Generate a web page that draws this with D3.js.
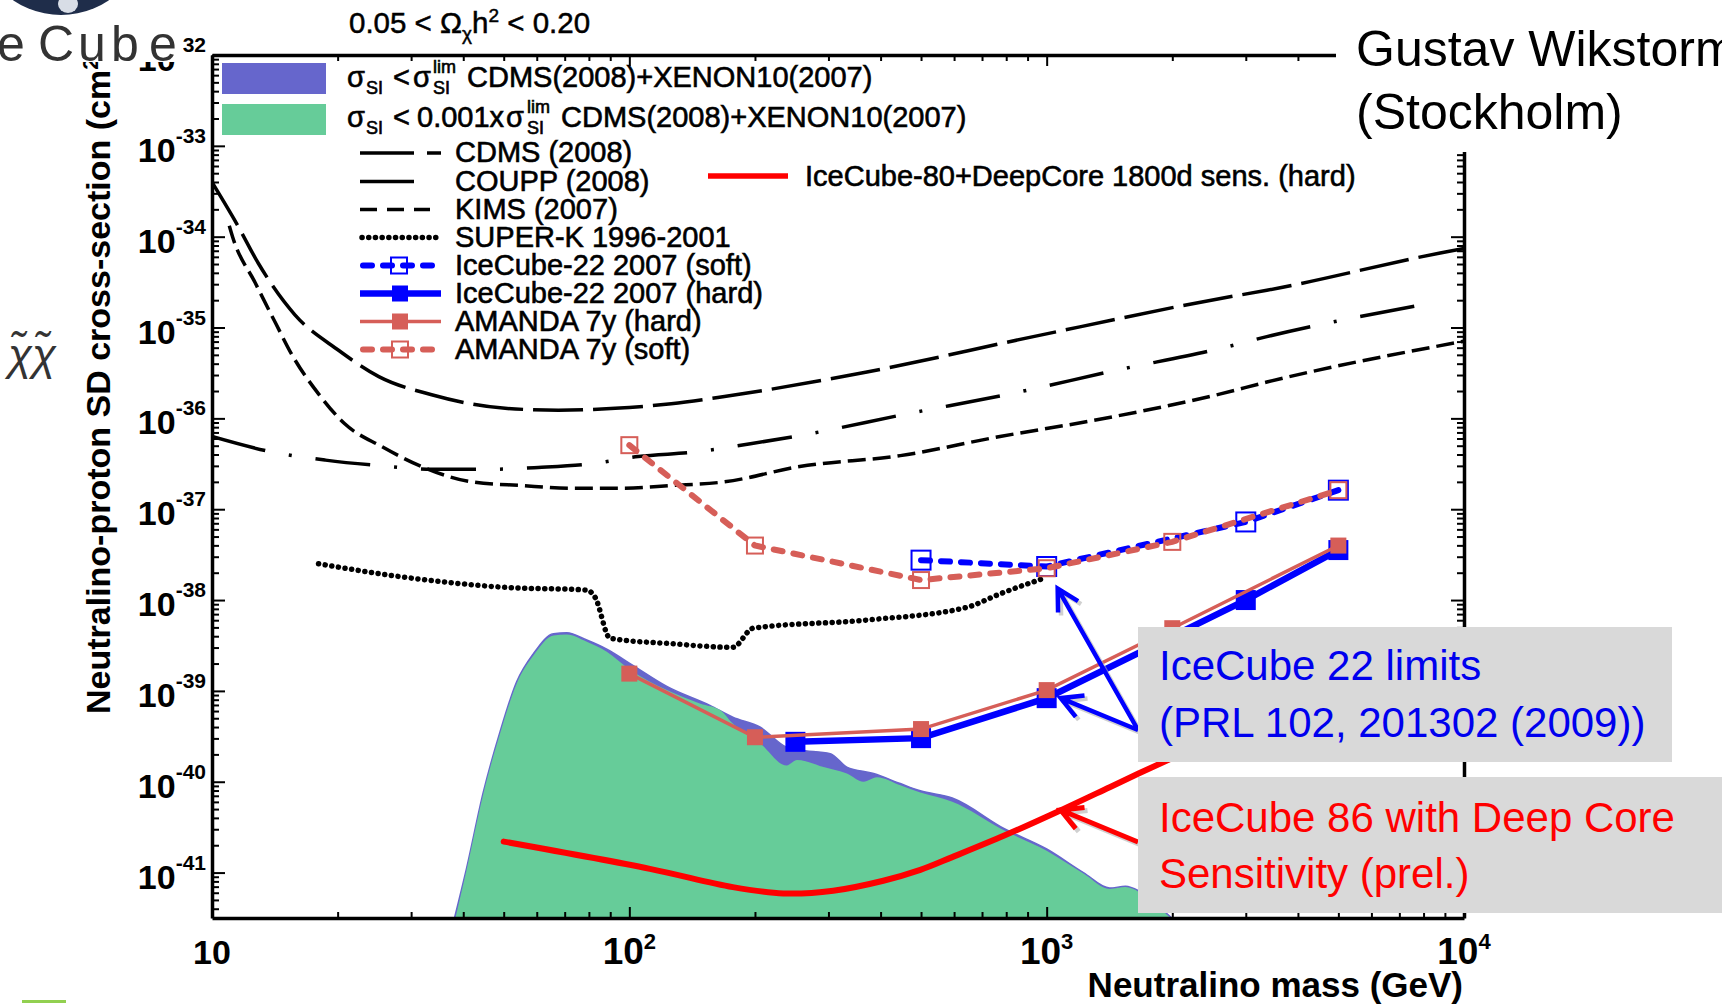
<!DOCTYPE html>
<html>
<head>
<meta charset="utf-8">
<script src="https://cdn.jsdelivr.net/npm/d3@7"></script>
<style>
  body { margin: 0; background: #fff; }
  svg { display: block; }
  text { font-family: "Liberation Sans", Arial, Helvetica, sans-serif; }
</style>
</head>
<body>
<svg id="chart" width="1722" height="1006"></svg>
<script>
// ---- data (mass in GeV, cross-section in cm^2) ----
var cdmsMass  = [10, 11.5, 12.9, 15.8, 20.1, 25.1, 33.6, 50.4, 67.6, 92.5, 126, 169, 371, 929, 2610, 3370, 8770, 10000];
var cdmsSigma = [3.98e-34, 1.35e-34, 5.13e-35, 1.38e-35, 5.62e-36, 2.88e-36, 1.82e-36, 1.29e-36, 1.23e-36, 1.29e-36, 1.45e-36, 1.74e-36, 3.24e-36, 7.94e-36, 2.09e-35, 2.57e-35, 6.61e-35, 7.41e-35];

var couppMass  = [10, 13.9, 18.7, 25.1, 33.6, 45.9, 60.5, 81.3, 105, 144, 195, 256, 462, 817, 1470, 2610, 3370, 8380];
var couppSigma = [6.31e-37, 4.27e-37, 3.47e-37, 3.02e-37, 2.75e-37, 2.75e-37, 2.88e-37, 3.16e-37, 3.80e-37, 4.27e-37, 5.25e-37, 6.46e-37, 1.12e-36, 1.86e-36, 3.39e-36, 5.89e-36, 7.94e-36, 1.86e-35];

var kimsMass  = [11.0, 11.2, 12.7, 14.2, 15.5, 18.0, 20.8, 25.5, 31.8, 41.9, 55.2, 72.8, 95.9, 126, 169, 256, 446, 773, 1340, 2610, 3370, 10000];
var kimsSigma = [1.32e-34, 1.00e-34, 3.09e-35, 1.12e-35, 5.13e-36, 1.86e-36, 8.71e-37, 4.90e-37, 2.95e-37, 2.00e-37, 1.82e-37, 1.70e-37, 1.70e-37, 1.82e-37, 2.00e-37, 2.95e-37, 3.89e-37, 6.31e-37, 9.77e-37, 1.86e-36, 2.51e-36, 7.08e-36];

var superkMass  = [18.0, 29.0, 50.4, 79.1, 82.8, 89.9, 126, 177, 198, 371, 644, 773, 1000];
var superkSigma = [2.51e-38, 1.78e-38, 1.38e-38, 1.29e-38, 1.07e-38, 3.80e-39, 3.31e-39, 3.02e-39, 4.90e-39, 6.03e-39, 8.32e-39, 1.17e-38, 1.78e-38];

var blueMass  = [38.0, 40.7, 44.7, 49.0, 53.7, 58.9, 65.8, 70.8, 79.1, 88.3, 102, 123, 156, 177, 206, 238, 256, 303, 332, 385, 446, 498, 594, 794, 1000, 1225, 1416, 1545, 1660, 1820, 2020];
var blueSigma = [3.0e-42, 1.10e-41, 7.76e-41, 3.55e-40, 1.26e-39, 2.57e-39, 4.27e-39, 4.37e-39, 3.63e-39, 2.88e-39, 1.91e-39, 1.12e-39, 6.92e-40, 5.13e-40, 3.98e-40, 2.40e-40, 2.24e-40, 2.04e-40, 1.45e-40, 1.23e-40, 9.55e-41, 7.94e-41, 6.61e-41, 3.02e-41, 1.82e-41, 1.00e-41, 6.76e-42, 7.08e-42, 6.31e-42, 4.57e-42, 3.0e-42];

var greenMass  = [38.2, 40.7, 44.7, 49.0, 53.7, 58.9, 65.8, 70.8, 79.1, 88.3, 100.5, 123, 148, 165, 177, 206, 238, 252, 292, 332, 364, 392, 446, 498, 594, 794, 1000, 1225, 1416, 1545, 1660, 1820, 2005];
var greenSigma = [3.0e-42, 1.05e-41, 7.41e-41, 3.39e-40, 1.20e-39, 2.45e-39, 4.07e-39, 4.17e-39, 3.47e-39, 2.69e-39, 1.70e-39, 1.02e-39, 7.24e-40, 6.17e-40, 4.37e-40, 2.63e-40, 1.51e-40, 1.74e-40, 1.45e-40, 1.23e-40, 1.00e-40, 1.12e-40, 9.12e-41, 7.59e-41, 6.03e-41, 2.88e-41, 1.74e-41, 9.77e-42, 6.61e-42, 6.92e-42, 6.17e-42, 4.47e-42, 3.0e-42];

var amandaHardMass  = [100, 200, 500, 1000, 2000, 5000];
var amandaHardSigma = [1.55e-39, 3.09e-40, 3.80e-40, 1.02e-39, 4.90e-39, 3.98e-38];

var amandaSoftMass  = [100, 200, 500, 1000, 2000, 5000];
var amandaSoftSigma = [5.07e-37, 3.98e-38, 1.66e-38, 2.24e-38, 4.37e-38, 1.62e-37];

var icHardMass  = [250, 500, 1000, 3000, 5000];
var icHardSigma = [2.75e-40, 3.02e-40, 8.32e-40, 1.00e-38, 3.55e-38];

var icSoftMass  = [500, 1000, 3000, 5000];
var icSoftSigma = [2.75e-38, 2.34e-38, 7.24e-38, 1.62e-37];

var deepcoreMass  = [50, 112, 177, 234, 308, 406, 498, 594, 794, 1062, 1416, 1660, 3160, 5000];
var deepcoreSigma = [2.19e-41, 1.10e-41, 6.92e-42, 5.89e-42, 6.31e-42, 8.13e-42, 1.07e-41, 1.48e-41, 2.57e-41, 4.68e-41, 8.71e-41, 1.23e-40, 4.79e-40, 1.26e-39];

// axis labels
var yTickExps = [-32, -33, -34, -35, -36, -37, -38, -39, -40, -41];
var xTickMass = [10, 100, 1000, 10000];
var xTickSups = ["", "2", "3", "4"];

var legendNames = ["CDMS (2008)", "COUPP (2008)", "KIMS (2007)", "SUPER-K 1996-2001",
                   "IceCube-22 2007 (soft)", "IceCube-22 2007 (hard)", "AMANDA 7y (hard)", "AMANDA 7y (soft)"];

var BLUE = "#0000ff", AMANDA = "#d65e58", RED = "#ff0000";
var FILL_BLUE = "#6666cc", FILL_GREEN = "#66cc99";

function zip(m, s) {
    return m.map(function(d, i) { return [d, s[i]]; });
}

var svg = d3.select("#chart");
var yLo = Math.pow(10, -41.5), yHi = 1e-32;
var x = d3.scaleLog().domain([10, 1e4]).range([212, 1464]);
var y = d3.scaleLog().domain([yLo, yHi]).range([918, 55]);

svg.append("defs").append("clipPath").attr("id", "plotclip")
    .append("rect").attr("x", 212).attr("y", 55).attr("width", 1252).attr("height", 863);

var plot = svg.append("g").attr("clip-path", "url(#plotclip)");

// ---- filled regions ----
var area = d3.area()
    .x(function(d) { return x(d[0]); })
    .y0(y(yLo) + 5)
    .y1(function(d) { return y(d[1]); })
    .curve(d3.curveMonotoneX);

plot.append("path").datum(zip(blueMass, blueSigma))
    .attr("d", area).attr("fill", FILL_BLUE)
    .attr("stroke", FILL_BLUE).attr("stroke-width", 1.5);
plot.append("path").datum(zip(greenMass, greenSigma))
    .attr("d", area).attr("fill", FILL_GREEN);

// ---- limit curves ----
var smooth = d3.line()
    .x(function(d) { return x(d[0]); })
    .y(function(d) { return y(d[1]); })
    .curve(d3.curveMonotoneX);
var rounded = d3.line()
    .x(function(d) { return x(d[0]); })
    .y(function(d) { return y(d[1]); })
    .curve(d3.curveCatmullRom.alpha(0.5));
var straight = d3.line()
    .x(function(d) { return x(d[0]); })
    .y(function(d) { return y(d[1]); });

plot.append("path").datum(zip(cdmsMass, cdmsSigma)).attr("d", smooth)
    .attr("fill", "none").attr("stroke", "#000").attr("stroke-width", 3.5)
    .attr("stroke-dasharray", "50 10");
plot.append("path").datum(zip(couppMass, couppSigma)).attr("d", smooth)
    .attr("fill", "none").attr("stroke", "#000").attr("stroke-width", 3.5)
    .attr("stroke-dasharray", "55 24 3 24");
plot.append("path").datum(zip(kimsMass, kimsSigma)).attr("d", smooth)
    .attr("fill", "none").attr("stroke", "#000").attr("stroke-width", 3.5)
    .attr("stroke-dasharray", "18 7");
plot.append("path").datum(zip(superkMass, superkSigma)).attr("d", smooth)
    .attr("fill", "none").attr("stroke", "#000").attr("stroke-width", 5.5)
    .attr("stroke-linecap", "round").attr("stroke-dasharray", "0.1 6.6");

plot.append("path").datum(zip(deepcoreMass, deepcoreSigma)).attr("d", rounded)
    .attr("fill", "none").attr("stroke", RED).attr("stroke-width", 6)
    .attr("stroke-linecap", "round");

// ---- measured series with markers ----
function series(m, s, color, width, dash, size, open) {
    var data = zip(m, s);
    var p = plot.append("path").datum(data).attr("d", straight)
        .attr("fill", "none").attr("stroke", color).attr("stroke-width", width);
    if (dash) p.attr("stroke-dasharray", dash).attr("stroke-linecap", "round");
    plot.selectAll(null).data(data).enter().append("rect")
        .attr("x", function(d) { return x(d[0]) - size / 2; })
        .attr("y", function(d) { return y(d[1]) - size / 2; })
        .attr("width", size).attr("height", size)
        .attr("fill", open ? "none" : color)
        .attr("stroke", color).attr("stroke-width", open ? 2 : 0);
}
series(icSoftMass, icSoftSigma, BLUE, 6, "9 11", 19, true);
series(amandaSoftMass, amandaSoftSigma, AMANDA, 6, "9 11", 16, true);
series(icHardMass, icHardSigma, BLUE, 6.5, null, 20, false);
series(amandaHardMass, amandaHardSigma, AMANDA, 3.5, null, 16, false);

// ---- axes ----
var yMajor = yTickExps.map(function(e) { return Math.pow(10, e); });
var yMinor = [];
for (var e = -42; e < -32; e++) {
    for (var k = 2; k < 10; k++) {
        var v = k * Math.pow(10, e);
        if (v >= yLo && v <= yHi) yMinor.push(v);
    }
}
var xMinor = [];
for (var e2 = 1; e2 < 4; e2++) {
    for (var k2 = 2; k2 < 10; k2++) xMinor.push(k2 * Math.pow(10, e2));
}

function styleAxis(g, w) {
    g.selectAll("text").remove();
    g.select(".domain").attr("stroke-width", w);
    g.selectAll(".tick line").attr("stroke-width", 2);
}

var axes = svg.append("g");
axes.append("g").attr("transform", "translate(212,0)")
    .call(d3.axisLeft(y).tickValues(yMajor).tickSize(-13).tickSizeOuter(0).tickFormat(""))
    .call(styleAxis, 3.5);
axes.append("g").attr("transform", "translate(212,0)")
    .call(d3.axisLeft(y).tickValues(yMinor).tickSize(-7).tickSizeOuter(0).tickFormat(""))
    .call(styleAxis, 0);
axes.append("g").attr("transform", "translate(1464,0)")
    .call(d3.axisRight(y).tickValues(yMajor).tickSize(-13).tickSizeOuter(0).tickFormat(""))
    .call(styleAxis, 3.5);
axes.append("g").attr("transform", "translate(1464,0)")
    .call(d3.axisRight(y).tickValues(yMinor).tickSize(-7).tickSizeOuter(0).tickFormat(""))
    .call(styleAxis, 0);
axes.append("g").attr("transform", "translate(0,918)")
    .call(d3.axisBottom(x).tickValues(xTickMass).tickSize(-11).tickSizeOuter(0).tickFormat(""))
    .call(styleAxis, 3.5);
axes.append("g").attr("transform", "translate(0,918)")
    .call(d3.axisBottom(x).tickValues(xMinor).tickSize(-6).tickSizeOuter(0).tickFormat(""))
    .call(styleAxis, 0);
axes.append("g").attr("transform", "translate(0,55)")
    .call(d3.axisTop(x).tickValues(xTickMass).tickSize(-11).tickSizeOuter(0).tickFormat(""))
    .call(styleAxis, 3.5);
axes.append("g").attr("transform", "translate(0,55)")
    .call(d3.axisTop(x).tickValues(xMinor).tickSize(-6).tickSizeOuter(0).tickFormat(""))
    .call(styleAxis, 0);

// y tick labels
yTickExps.forEach(function(e) {
    var t = svg.append("text").attr("x", 206).attr("y", y(Math.pow(10, e)) + 16)
        .attr("text-anchor", "end").attr("font-weight", "bold").attr("font-size", 34);
    t.append("tspan").text("10");
    t.append("tspan").attr("dy", -19).attr("font-size", 21).text(String(e));
});

// x tick labels
xTickMass.forEach(function(m, i) {
    var t = svg.append("text").attr("x", x(m)).attr("y", 964)
        .attr("text-anchor", "middle").attr("font-weight", "bold");
    if (xTickSups[i] === "") {
        t.attr("font-size", 34).text("10");
    } else {
        t.attr("font-family", "'Liberation Sans Narrow', 'Arial Narrow', sans-serif").attr("font-size", 37);
        t.append("tspan").text("10");
        t.append("tspan").attr("dy", -15).attr("font-size", 22).text(xTickSups[i]);
    }
});

// axis titles
svg.append("text").attr("x", 1463).attr("y", 997).attr("text-anchor", "end")
    .attr("font-weight", "bold").attr("font-size", 35).text("Neutralino mass (GeV)");
var yt = svg.append("text").attr("transform", "translate(110,714) rotate(-90)")
    .attr("font-weight", "bold").attr("font-size", 34);
yt.append("tspan").text("Neutralino-proton SD cross-section (cm");
yt.append("tspan").attr("dy", -12).attr("font-size", 22).text("2");
yt.append("tspan").attr("dy", 12).text(")");

// ---- legend ----
var lg = svg.append("g").attr("font-size", 29).attr("stroke", "#000").attr("stroke-width", 0.6);
lg.append("rect").attr("x", 222).attr("y", 63).attr("width", 104).attr("height", 31)
    .attr("fill", FILL_BLUE).attr("stroke", "none");
lg.append("rect").attr("x", 222).attr("y", 104).attr("width", 104).attr("height", 31)
    .attr("fill", FILL_GREEN).attr("stroke", "none");

function put(g, txt, px, py, fs) {
    return g.append("text").attr("x", px).attr("y", py).attr("font-size", fs || 29).text(txt);
}
// row 1
put(lg, "σ", 347, 87); put(lg, "SI", 366, 94, 18); put(lg, "<", 393, 87);
put(lg, "σ", 413, 87); put(lg, "lim", 433, 73, 18); put(lg, "SI", 433, 94, 18);
put(lg, "CDMS(2008)+XENON10(2007)", 467, 87);
// row 2
put(lg, "σ", 347, 127); put(lg, "SI", 366, 134, 18); put(lg, "<", 393, 127);
put(lg, "0.001x", 417, 127); put(lg, "σ", 506, 127);
put(lg, "lim", 527, 113, 18); put(lg, "SI", 527, 134, 18);
put(lg, "CDMS(2008)+XENON10(2007)", 561, 127);

var rowY = [153, 181.5, 209.5, 237.5, 265.5, 293.5, 321.5, 349.5];
legendNames.forEach(function(n, i) {
    put(lg, n, 455, rowY[i] + 9);
});
function seg(x1, x2, yy, color, w, dash, cap) {
    var l = lg.append("line").attr("x1", x1).attr("x2", x2).attr("y1", yy).attr("y2", yy)
        .attr("stroke", color).attr("stroke-width", w);
    if (dash) l.attr("stroke-dasharray", dash);
    if (cap) l.attr("stroke-linecap", cap);
}
function box(cx, cy, s, color, open) {
    lg.append("rect").attr("x", cx - s / 2).attr("y", cy - s / 2).attr("width", s).attr("height", s)
        .attr("fill", open ? "none" : color).attr("stroke", open ? color : "none").attr("stroke-width", 2);
}
seg(360, 414, rowY[0], "#000", 3.5); seg(427, 441, rowY[0], "#000", 3.5);
seg(360, 414, rowY[1], "#000", 3.5);
seg(360, 430, rowY[2], "#000", 3.5, "17 10");
seg(362, 436, rowY[3], "#000", 5.5, "0.1 6.6", "round");
seg(363, 436, rowY[4], BLUE, 6, "9 11", "round"); box(399, rowY[4], 16, BLUE, true);
seg(360, 441, rowY[5], BLUE, 6.5); box(400, rowY[5], 16, BLUE, false);
seg(360, 441, rowY[6], AMANDA, 3.5); box(400, rowY[6], 16, AMANDA, false);
seg(363, 436, rowY[7], AMANDA, 6, "9 11", "round"); box(400, rowY[7], 16, AMANDA, true);

seg(708, 788, 176, RED, 5.5);
put(lg, "IceCube-80+DeepCore 1800d sens. (hard)", 805, 186);

// relic density label
var rt = svg.append("text").attr("x", 349).attr("y", 33).attr("font-size", 29.5)
    .attr("stroke", "#000").attr("stroke-width", 0.5);
rt.append("tspan").text("0.05 < Ω");
rt.append("tspan").attr("dy", 7).attr("font-size", 19).text("χ");
rt.append("tspan").attr("dy", -7).text("h");
rt.append("tspan").attr("dy", -11).attr("font-size", 19).text("2");
rt.append("tspan").attr("dy", 11).text(" < 0.20");

// ---- annotations ----
function arrow(x1, y1, x2, y2, color, w) {
    var a = Math.atan2(y2 - y1, x2 - x1), L = 24, th = 0.5;
    var p = "M" + x1 + "," + y1 + "L" + x2 + "," + y2 +
        "M" + (x2 - L * Math.cos(a - th)) + "," + (y2 - L * Math.sin(a - th)) +
        "L" + x2 + "," + y2 +
        "L" + (x2 - L * Math.cos(a + th)) + "," + (y2 - L * Math.sin(a + th));
    svg.append("path").attr("d", p).attr("fill", "none").attr("stroke", "#b0b0b0")
        .attr("stroke-width", w).attr("transform", "translate(3,3)").attr("opacity", 0.6);
    svg.append("path").attr("d", p).attr("fill", "none").attr("stroke", color)
        .attr("stroke-width", w).attr("stroke-linejoin", "miter");
}
arrow(1138, 730, x(1000) + 11, y(2.34e-38) + 22, BLUE, 4.5);
arrow(1138, 730, x(1000) + 14, y(8.32e-40), BLUE, 4.5);
arrow(1138, 842, x(1000) + 14, 810, RED, 5);

svg.append("rect").attr("x", 1138).attr("y", 627).attr("width", 534).attr("height", 135).attr("fill", "#d9d9d9");
svg.append("rect").attr("x", 1138).attr("y", 777).attr("width", 584).attr("height", 136).attr("fill", "#d9d9d9");

var calib = "'Open Sans', 'Noto Sans', sans-serif";
svg.append("text").attr("x", 1159).attr("y", 680).attr("font-family", calib).attr("font-size", 42)
    .attr("fill", "#0000ee").text("IceCube 22 limits");
svg.append("text").attr("x", 1159).attr("y", 737).attr("font-family", calib).attr("font-size", 42)
    .attr("fill", "#0000ee").text("(PRL 102, 201302 (2009))");
svg.append("text").attr("x", 1159).attr("y", 832).attr("font-family", calib).attr("font-size", 42)
    .attr("fill", RED).text("IceCube 86 with Deep Core");
svg.append("text").attr("x", 1159).attr("y", 888).attr("font-family", calib).attr("font-size", 42)
    .attr("fill", RED).text("Sensitivity (prel.)");

// author box over the top-right corner
svg.append("rect").attr("x", 1336).attr("y", 0).attr("width", 386).attr("height", 152).attr("fill", "#fff");
svg.append("text").attr("x", 1356).attr("y", 66).attr("font-family", calib).attr("font-size", 50)
    .text("Gustav Wikstorm");
svg.append("text").attr("x", 1356).attr("y", 129).attr("font-family", calib).attr("font-size", 50)
    .text("(Stockholm)");

// logo fragment top-left
svg.append("rect").attr("x", 0).attr("y", 0).attr("width", 183).attr("height", 62).attr("fill", "#fff");
svg.append("circle").attr("cx", 61).attr("cy", -70).attr("r", 85).attr("fill", "#1f2d4a");
svg.append("ellipse").attr("cx", 68).attr("cy", 4).attr("rx", 10).attr("ry", 9).attr("fill", "#d8dde6");
[["e", -3], ["C", 38], ["u", 78], ["b", 111], ["e", 149]].forEach(function(c) {
    svg.append("text").attr("x", c[1]).attr("y", 61)
        .attr("font-family", "'Liberation Sans Narrow', sans-serif").attr("font-size", 50)
        .attr("fill", "#333").text(c[0]);
});

// side symbol
svg.append("text").attr("x", 8).attr("y", 370).attr("font-family", "'DejaVu Serif', serif")
    .attr("font-style", "italic").attr("font-size", 44).attr("fill", "#333").text("\u03c7\u0303\u03c7\u0303");

svg.append("rect").attr("x", 22).attr("y", 1000).attr("width", 44).attr("height", 3).attr("fill", "#92d050");
</script>
</body>
</html>
